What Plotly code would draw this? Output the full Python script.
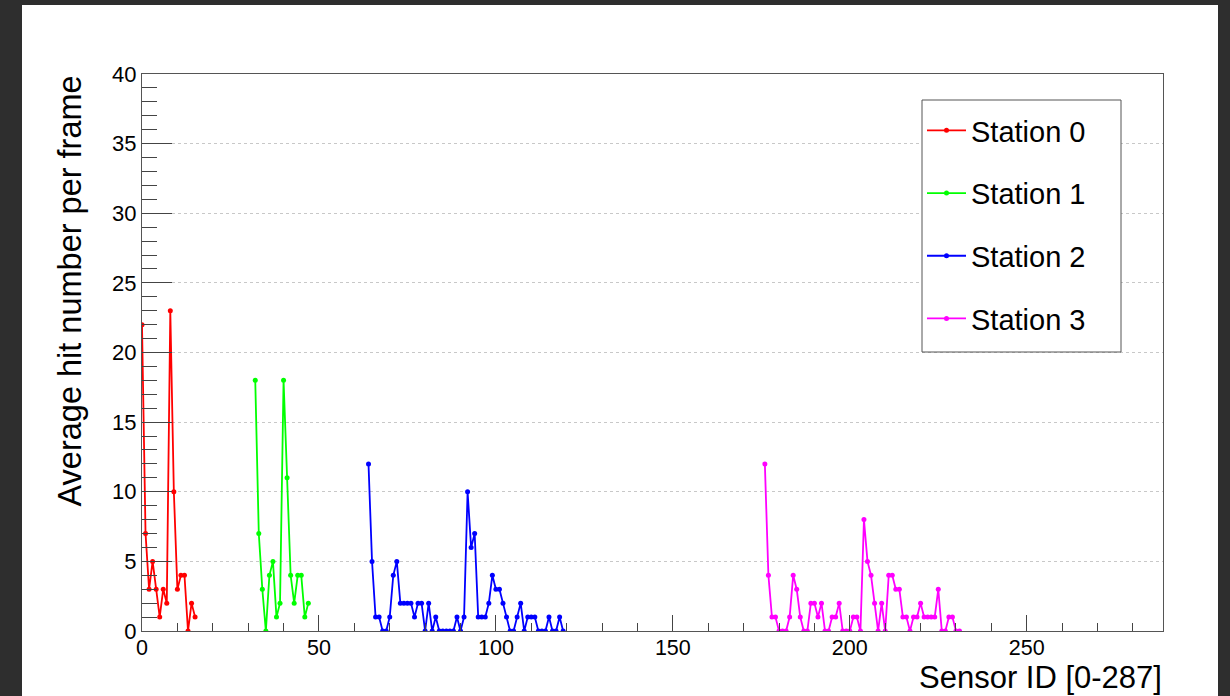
import plotly.graph_objects as go

# ---------------- data ----------------
station0_x = list(range(0, 16))
station0_y = [22, 7, 3, 5, 3, 1, 3, 2, 23, 10, 3, 4, 4, 0, 2, 1]

station1_x = list(range(32, 48))
station1_y = [18, 7, 3, 0, 4, 5, 1, 2, 18, 11, 4, 2, 4, 4, 1, 2]

station2_x = list(range(64, 120))
station2_y = [12, 5, 1, 1, 0, 0, 1, 4, 5, 2, 2, 2, 2, 1, 2, 2, 0, 2, 0, 1,
              0, 0, 0, 0, 0, 1, 0, 1, 10, 6, 7, 1, 1, 1, 2, 4, 3, 3, 2, 1,
              0, 0, 1, 2, 0, 1, 1, 1, 0, 0, 0, 1, 0, 0, 1, 0]

station3_x = list(range(176, 232))
station3_y = [12, 4, 1, 1, 0, 0, 0, 1, 4, 3, 1, 0, 0, 2, 2, 1, 2, 0, 0, 1,
              1, 2, 0, 0, 0, 1, 1, 0, 8, 5, 4, 2, 0, 2, 0, 4, 4, 3, 3, 1,
              1, 0, 1, 1, 2, 1, 1, 1, 1, 3, 0, 0, 1, 1, 0, 0]

series_names = ["Station 0", "Station 1", "Station 2", "Station 3"]
series_colors = ["#ff0000", "#00ff00", "#0000ff", "#ff00ff"]

x_title = "Sensor ID [0-287]"
y_title = "Average hit number per frame"

# ---------------- figure ----------------
W, H = 1230, 696
L, R, T, B = 142, 1163, 74, 631  # plot-area pixel box
pw, ph = R - L, B - T

def px_x(p):
    return (p - L) / pw

def px_y(p):
    return (B - p) / ph

FONT = "Liberation Sans, Arial, Helvetica, sans-serif"

fig = go.Figure()
all_x = [station0_x, station1_x, station2_x, station3_x]
all_y = [station0_y, station1_y, station2_y, station3_y]
for i, (xs, ys) in enumerate(zip(all_x, all_y)):
    fig.add_trace(go.Scatter(
        x=xs, y=ys, mode="lines+markers", name=series_names[i],
        legendgroup=f"g{i}",
        line=dict(color=series_colors[i], width=1.8),
        marker=dict(color=series_colors[i], size=5, symbol="circle"),
    ))

# white canvas (the photographed ROOT canvas) over a dark background
fig.add_shape(type="rect", xref="paper", yref="paper",
              x0=px_x(22), x1=px_x(1218), y0=px_y(696), y1=px_y(5),
              fillcolor="white", line=dict(width=0), layer="below")

# legend frame (ROOT TLegend box)
fig.add_shape(type="rect", xref="paper", yref="paper",
              x0=px_x(922), x1=px_x(1121), y0=px_y(352), y1=px_y(100),
              fillcolor="white", line=dict(color="#555555", width=1), layer="above")

fig.add_annotation(text=x_title, xref="paper", yref="paper",
                   x=1.0, xanchor="right", y=px_y(677), yanchor="middle",
                   borderpad=0,
                   showarrow=False, font=dict(family=FONT, size=31, color="black"))
fig.add_annotation(text=y_title, xref="paper", yref="paper",
                   x=px_x(69), xanchor="center", y=1.0, yanchor="top",
                   textangle=-90, showarrow=False,
                   font=dict(family=FONT, size=32.5, color="black"))

fig.update_layout(
    width=W, height=H,
    margin=dict(l=L, r=W - R, t=T, b=H - B, pad=0),
    paper_bgcolor="#2e2e2e",
    plot_bgcolor="white",
    showlegend=True,
    legend=dict(
        x=px_x(922), xanchor="left", y=px_y(105), yanchor="top",
        bgcolor="rgba(0,0,0,0)", borderwidth=0,
        font=dict(family=FONT, size=29, color="black"),
        itemwidth=39, tracegroupgap=22, traceorder="grouped",
    ),
    xaxis=dict(
        range=[0, 288.5], showgrid=False, zeroline=False,
        tickmode="linear", tick0=0, dtick=50,
        ticks="inside", ticklen=16, tickcolor="#444444", tickwidth=1,
        minor=dict(ticks="inside", ticklen=8, dtick=10, tickcolor="#444444", showgrid=False),
        showline=True, linecolor="#555555", linewidth=1, mirror=True,
        tickfont=dict(family=FONT, size=21.5, color="black"),
        ticklabelstandoff=-3,
    ),
    yaxis=dict(
        range=[0, 40], zeroline=False,
        tickmode="linear", tick0=0, dtick=5,
        showgrid=True, gridcolor="#c8c8c8", griddash="dot", gridwidth=1,
        ticks="inside", ticklen=30, tickcolor="#444444", tickwidth=1,
        minor=dict(ticks="inside", ticklen=15, dtick=1, tickcolor="#444444", showgrid=False),
        showline=True, linecolor="#555555", linewidth=1, mirror=True,
        tickfont=dict(family=FONT, size=22, color="black"),
    ),
)

fig.write_html("out.html")
